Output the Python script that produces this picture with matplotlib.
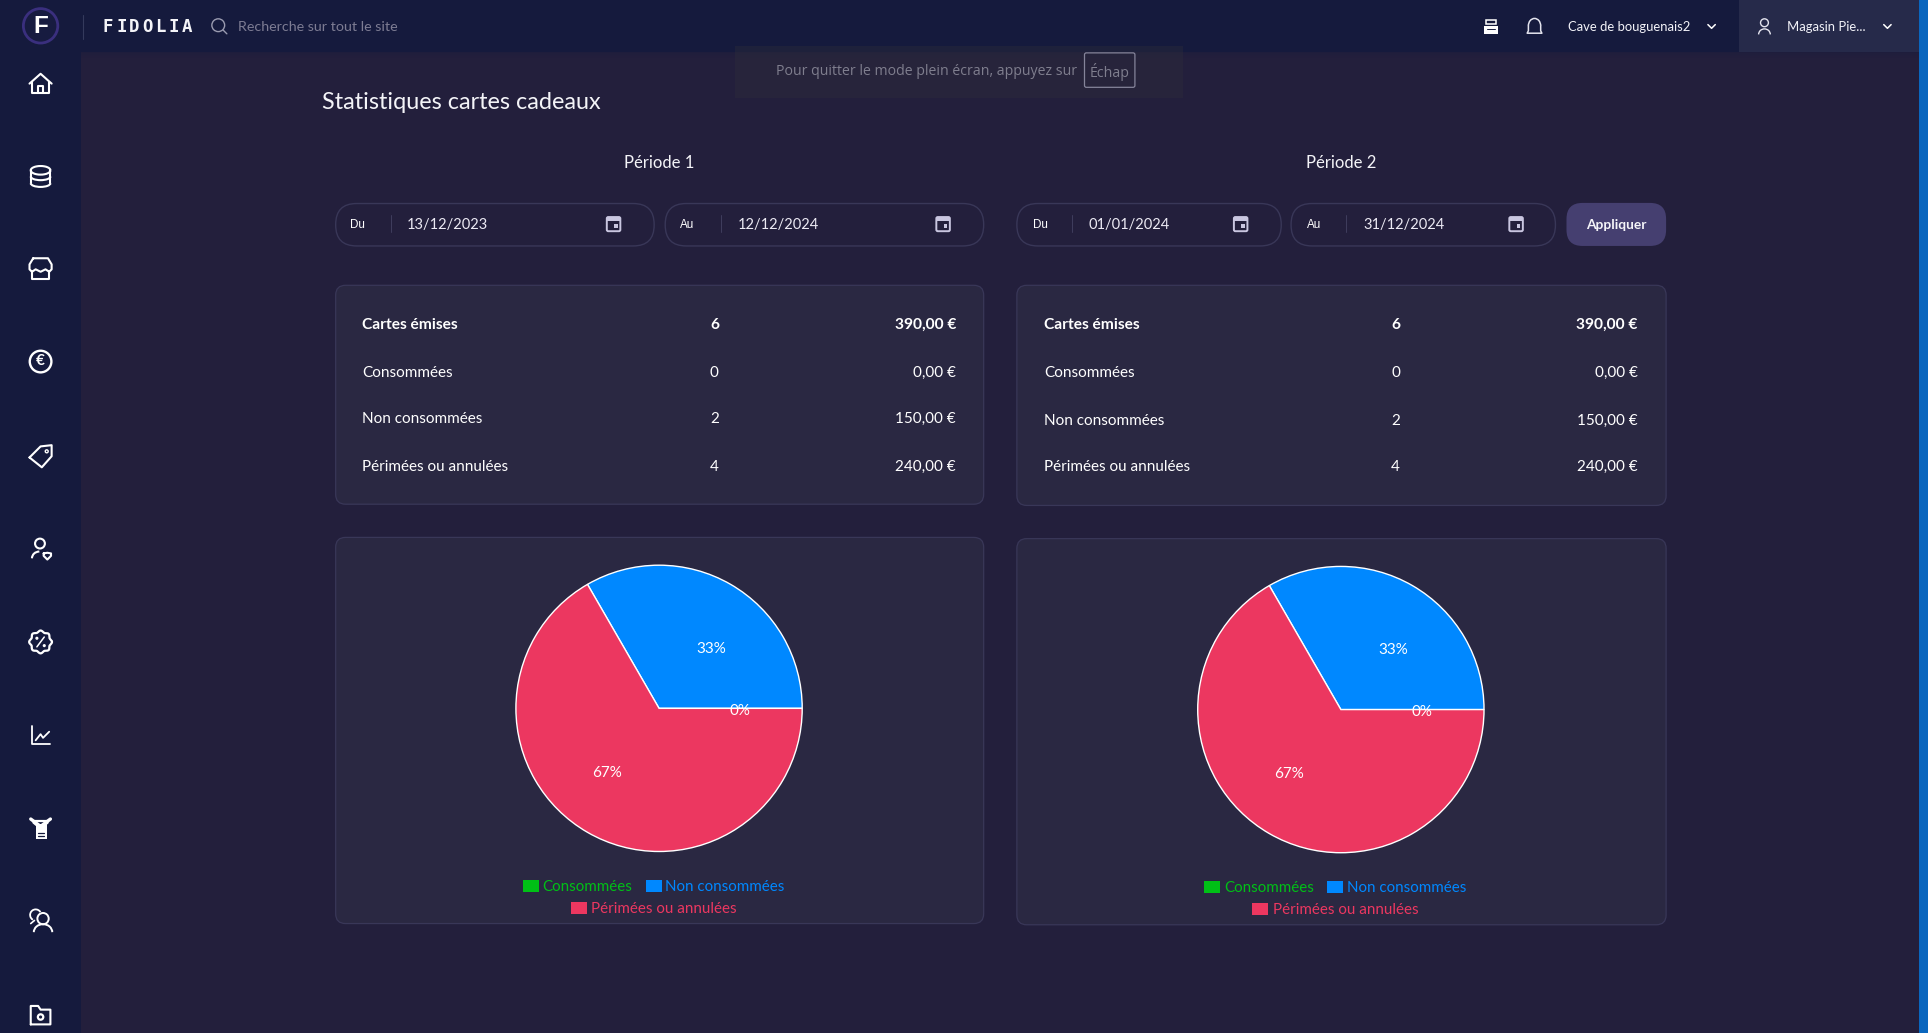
import matplotlib
matplotlib.use("Agg")
import matplotlib.pyplot as plt
from matplotlib.patches import FancyBboxPatch, Rectangle, Circle, Polygon, Arc
import numpy as np

# ---- data ----
periods = ["Période 1", "Période 2"]
row_labels = ["Cartes émises", "Consommées", "Non consommées", "Périmées ou annulées"]
counts = ["6", "0", "2", "4"]
amounts = ["390,00 €", "0,00 €", "150,00 €", "240,00 €"]
pie_categories = ["Consommées", "Non consommées", "Périmées ou annulées"]
pie_values_p1 = [0, 2, 4]
pie_values_p2 = [0, 2, 4]
pie_colors = ["#00C016", "#0088FF", "#EC3760"]
pie_labels = ["0%", "33%", "67%"]
dates = ["13/12/2023", "12/12/2024", "01/01/2024", "31/12/2024"]
date_prefix = ["Du", "Au", "Du", "Au"]

BG = "#231F3C"; NAV = "#151A3D"; CARD = "#2A2842"; EDGE = "#393758"
FONT = "Lato"; W, H = 1928, 1033; SW, SH = 1568, 840

fig = plt.figure(figsize=(W / 100, H / 100), dpi=100, facecolor=BG)
bg = fig.add_axes([0, 0, 1, 1])
bg.set_xlim(0, SW); bg.set_ylim(SH, 0); bg.axis("off")


def rrect(x0, y0, x1, y1, r, fc, ec="none", lw=1, z=1, ax=bg):
    p = FancyBboxPatch((x0, y0), x1 - x0, y1 - y0, boxstyle=f"round,pad=0,rounding_size={r}",
                       fc=fc, ec=ec, lw=lw, zorder=z)
    ax.add_patch(p)


def T(x, y, s, size=10.2, color="white", ha="left", weight="normal", family=FONT, alpha=1, z=7):
    return bg.text(x, y + 1.8, s, fontsize=size, color=color, ha=ha, va="center", weight=weight,
                   family=family, alpha=alpha, zorder=z)


def L(xs, ys, lw=1.5, color="white", z=6):
    bg.plot(xs, ys, color=color, lw=lw, solid_capstyle="round", solid_joinstyle="round", zorder=z)


def C(x, y, r, lw=1.5, color="white", fc="none", z=6):
    bg.add_patch(Circle((x, y), r, fc=fc, ec=color, lw=lw, zorder=z))


# ---- chrome ----
bg.add_patch(Rectangle((0, 0), 66, SH, fc=NAV, ec="none", zorder=1))
bg.add_patch(Rectangle((0, 0), 1561, 42, fc=NAV, ec="none", zorder=2))
for i, a in enumerate([0.30, 0.18, 0.10, 0.05]):
    bg.add_patch(Rectangle((66, 42 + i * 1.2), 1495, 1.2, fc=NAV, alpha=a, ec="none", zorder=1.5))
bg.add_patch(Rectangle((1414, 0), 147, 42, fc="#262A4A", ec="none", zorder=3))
bg.add_patch(Rectangle((1561, 0), 7, SH, fc="#0A66BE", ec="none", zorder=3))

# logo
C(33, 21, 14, lw=2.0, color="#3A2F7E", fc="#171B40")
T(33, 20, "F", size=17.5, ha="center", weight="bold", family="Liberation Sans")
L([67.5, 67.5], [12, 32], lw=0.8, color="#343A5C")
for i, ch in enumerate("FIDOLIA"):
    T(88 + i * 10.7, 19.8, ch, size=12.5, ha="center", weight="bold", family="DejaVu Sans Mono", color="#F4F4F8")
# search
C(177.5, 20.5, 5.2, lw=1.0, color="#9A9BB0")
L([181.5, 184.5], [24.5, 27.5], lw=1.0, color="#9A9BB0")
T(193.5, 20.4, "Recherche sur tout le site", size=10.3, color="#7D7C93")

# notice
bg.add_patch(Rectangle((598, 37), 364, 43, fc="#2E2E3A", alpha=0.4, ec="none", zorder=4))
T(631, 56.4, "Pour quitter le mode plein écran, appuyez sur", size=10.2, color="#7F7E8E", family="Open Sans")
rrect(882, 43, 923, 71, 1.5, "none", ec="#85849A", lw=0.9, z=5)
T(902.5, 56.4, "Échap", size=10.2, color="#7F7E8E", ha="center", family="Open Sans")

# top right
# register icon
bg.add_patch(Rectangle((1207, 21), 11, 6.5, fc="white", ec="none", zorder=6))
bg.add_patch(Rectangle((1208.5, 16), 8, 3.5, fc="none", ec="white", lw=1.1, zorder=6))
L([1209, 1216], [23.5, 23.5], lw=0.7, color=NAV)
# bell
bg.add_patch(Arc((1248, 21), 10, 12, theta1=180, theta2=360, ec="#E4E4EE", lw=1.1, zorder=6))
L([1243, 1243, 1242, 1254, 1253, 1253], [21, 25, 27, 27, 25, 21], lw=1.1, color="#E4E4EE")
T(1275, 20.2, "Cave de bouguenais2", size=9.4, color="#F2F2F8")
L([1389, 1392, 1395], [20, 23, 20], lw=1.1)
C(1435, 18.5, 3.2, lw=1.0, color="#E4E4EE")
bg.add_patch(Arc((1435, 28), 9.5, 9, theta1=180, theta2=360, ec="#E4E4EE", lw=1.0, zorder=6))
T(1453, 20.2, "Magasin Pie...", size=9.4, color="#F2F2F8")
L([1532, 1535, 1538], [20, 23, 20], lw=1.1)

# sidebar icons
# home
L([24, 33, 42], [68, 60, 68]); L([26, 26, 40, 40], [67, 76, 76, 67]); L([31, 31, 35, 35], [76, 70, 70, 76])
# database
bg.add_patch(Arc((33, 138.5), 16, 7, ec="white", lw=1.5, zorder=6))
L([25, 25], [138.5, 149]); L([41, 41], [138.5, 149])
bg.add_patch(Arc((33, 149), 16, 6, theta1=0, theta2=180, ec="white", lw=1.5, zorder=6))
bg.add_patch(Arc((33, 143.5), 16, 6, theta1=0, theta2=180, ec="white", lw=1.5, zorder=6))
# store
L([27, 39, 42, 42, 40, 37, 33, 29, 26, 24, 24, 27], [210, 210, 215, 219, 221, 219, 221, 219, 221, 219, 215, 210])
L([26, 26, 40, 40], [220, 227, 227, 220])
# euro
C(33, 294, 8.8, lw=1.7)
T(33, 292, "€", size=11, ha="center", weight="bold")
# tag
L([24, 33, 42, 42, 34, 24], [372, 363, 362, 371, 380, 372]); C(38, 367, 1.2, lw=1)
# user heart
C(32.5, 442, 4, lw=1.5)
bg.add_patch(Arc((32, 454), 12, 11, theta1=180, theta2=270, ec="white", lw=1.5, zorder=6))
L([35.5, 38.5, 41.5, 41.5, 38.5, 35.5, 35.5], [450, 449.5, 450, 452, 455, 452, 450], lw=1.5)
# percent badge (scalloped outline)
th = np.linspace(0, 2 * np.pi, 160)
rb = 8.6 + 0.7 * np.cos(8 * th)
L(33 + rb * np.cos(th), 522 + rb * np.sin(th), lw=1.6)
L([30, 36], [526, 518], lw=1.1); C(30, 519, 0.7, lw=1); C(36, 525, 0.7, lw=1)
# line chart
L([26, 26, 41], [590, 605, 605], lw=1.3); L([29, 33, 35, 40], [602, 597, 600, 595], lw=1.3)
# gift / box
bg.add_patch(Rectangle((29, 670), 9, 12, fc="white", ec="none", zorder=6))
L([25, 33, 41], [666, 672, 666], lw=2.4); L([27, 33, 39], [669, 674, 669], lw=1.2, color="white")
L([27, 39], [667.5, 667.5], lw=1.6, color="white")
L([31, 36], [677, 677], lw=0.9, color=NAV); L([31, 36], [680, 680], lw=0.9, color=NAV)
# users
bg.add_patch(Arc((29, 744), 9, 9, theta1=120, theta2=330, ec="white", lw=1.3, zorder=6))
C(35, 747, 4.6, lw=1.4, fc=NAV)
bg.add_patch(Arc((35, 758), 15, 13, theta1=180, theta2=360, ec="white", lw=1.4, zorder=6))
L([25, 28], [751, 748.5], lw=1.2)
# folder gear
L([25, 25, 31, 33, 41, 41, 25], [833, 818, 818, 821, 821, 833, 833], lw=1.5)
C(33, 827, 2.2, lw=1.6)

# ---- page ----
T(262, 81.2, "Statistiques cartes cadeaux", size=16.8, color="#F4F4F8")
card_x = [(273, 800), (827, 1355)]
period_x = [536, 1090.5]
for px, label in zip(period_x, periods):
    T(px, 131, label, size=12, ha="center", color="#F4F4F8")

inputs = [(273, 532, 291, 318, 331, 499), (541, 800, 559, 586, 600, 767),
          (827, 1042, 846, 872, 885, 1009), (1050, 1265, 1069, 1095, 1109, 1233)]
for (x0, x1, xp, xs, xd, xi), d, pre in zip(inputs, dates, date_prefix):
    rrect(x0, 165.5, x1, 200, 17, "none", ec=EDGE, lw=1)
    T(xp, 181, pre, size=8.4, ha="center", family="Liberation Sans")
    L([xs, xs], [175, 189], lw=0.7, color="#3F3D5E")
    T(xd, 181, d, size=10.5, color="#ECEAF4")
    rrect(xi - 5.5, 176.5, xi + 5.5, 188, 1.2, "none", ec="#C9C6E0", lw=1.4, z=6)
    bg.add_patch(Rectangle((xi - 5.5, 176.5), 11, 3.5, fc="#C9C6E0", ec="none", zorder=6))
    bg.add_patch(Rectangle((xi + 0.5, 182.5), 3, 3, fc="#C9C6E0", ec="none", zorder=6))
rrect(1274, 165, 1355, 200, 13, "#453F70", z=2)
T(1314.5, 181, "Appliquer", size=9.9, ha="center", weight="bold", color="#F4F4F8")

table_rows = [[263, 302, 340, 379], [263, 302, 341, 379]]
table_cols = [(294.5, 581, 777.5), (849, 1135, 1332)]
table_y = [(232, 410), (232, 411)]
for (x0, x1), (ya, yb), rows, (xl, xc, xa) in zip(card_x, table_y, table_rows, table_cols):
    rrect(x0, ya, x1, yb, 8, CARD, ec=EDGE, lw=0.9)
    for i, y in enumerate(rows):
        w = "bold" if i == 0 else "normal"
        sz = 11.2 if i == 0 else 11
        T(xl, y - 0.8, row_labels[i], size=sz, weight=w)
        T(xc, y - 0.8, counts[i], size=sz, ha="center", weight=w)
        T(xa, y - 0.8, amounts[i], size=sz, ha="right", weight=w)

# ---- pies ----
pie_centers = [(536, 576), (1090.5, 577)]
pie_cards = [(437, 751), (438, 752)]
label_turn = [0, -10, -10]
R = 117
for (cx, cy), (x0, x1), (ya, yb), vals in zip(pie_centers, card_x, pie_cards, [pie_values_p1, pie_values_p2]):
    rrect(x0, ya, x1, yb, 8, CARD, ec=EDGE, lw=0.9)
    ax = fig.add_axes([(cx - R) / SW, 1 - (cy + R) / SH, 2 * R / SW, 2 * R / SH])
    ax.patch.set_alpha(0)
    wedges, _ = ax.pie(vals, colors=pie_colors, startangle=0, counterclock=True, radius=1,
                       wedgeprops=dict(edgecolor="white", linewidth=1.0), normalize=True)
    ax.set_xlim(-1.005, 1.005); ax.set_ylim(-1.005, 1.005)
    for w, lab, turn in zip(wedges, pie_labels, label_turn):
        ang = np.deg2rad((w.theta1 + w.theta2) / 2 + turn)
        ax.text(0.565 * np.cos(ang), 0.565 * np.sin(ang) - 0.016, lab, color="white", fontsize=10.9,
                family=FONT, ha="center", va="center")
    dx = cx - 536
    ly = yb - 31
    boxes = [(425, 441, ly), (525, 541, ly), (464, 481, ly + 18)]
    for (bx, tx, y), name, col in zip(boxes, pie_categories, pie_colors):
        bg.add_patch(Rectangle((bx + dx, y - 4.5), 13, 9.5, fc=col, ec="none", zorder=5))
        T(tx + dx, y - 0.8, name, size=10.9, color=col)

fig.savefig("out.png", dpi=100, facecolor=BG)
